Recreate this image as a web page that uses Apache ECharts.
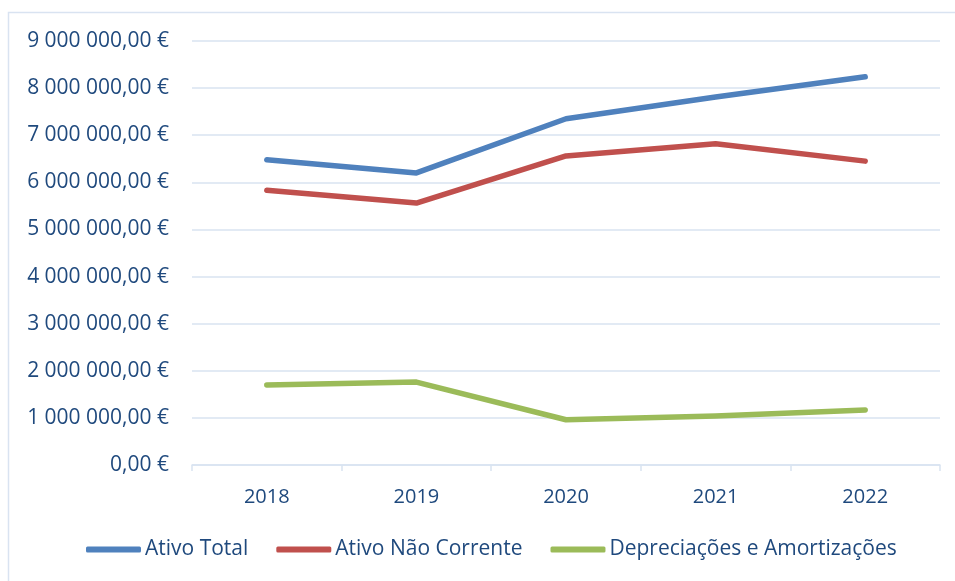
<!DOCTYPE html>
<html>
<head>
<meta charset="utf-8">
<script src="https://cdn.jsdelivr.net/npm/echarts@6/dist/echarts.min.js"></script>
<style>
  html, body { margin: 0; padding: 0; background: #fff; }
  #chart { width: 955px; height: 581px; }
</style>
</head>
<body>
<div id="chart"></div>
<script>
const years = ['2018', '2019', '2020', '2021', '2022']
const ativoTotal = [6480000, 6200000, 7350000, 7810000, 8240000]
const ativoNaoCorrente = [5830000, 5560000, 6560000, 6820000, 6450000]
const depreciacoes = [1700000, 1760000, 960000, 1040000, 1170000]

const textColor = '#1F497D'
const gridColor = '#D9E3F1'
const font = 'Open Sans'

const fmtEuro = (v) => {
  const s = Math.round(v).toString().replace(/\B(?=(\d{3})+(?!\d))/g, ' ')
  return s + ',00 €'
}

const lineSeries = (name, data, color) => ({
  name,
  type: 'line',
  data,
  symbol: 'none',
  lineStyle: { color, width: 5.5, cap: 'round', join: 'round' },
  itemStyle: { color },
})

const chart = echarts.init(document.getElementById('chart'), null, { renderer: 'canvas' })
chart.setOption({
  animation: false,
  backgroundColor: '#ffffff',
  graphic: [{
    type: 'rect',
    shape: { x: 8.5, y: 12.5, width: 1000, height: 1000 },
    style: { fill: 'none', stroke: '#D9E3F1', lineWidth: 1.5 },
    silent: true,
  }],
  grid: { left: 192, right: 15, top: 41, bottom: 116 },
  xAxis: {
    type: 'category',
    data: years,
    boundaryGap: true,
    axisLine: { lineStyle: { color: gridColor, width: 1.5 } },
    axisTick: { show: true, length: 6, lineStyle: { color: gridColor, width: 1.5 } },
    axisLabel: { color: textColor, fontFamily: font, fontSize: 20, margin: 22 },
  },
  yAxis: {
    type: 'value',
    min: 0,
    max: 9000000,
    interval: 1000000,
    axisLine: { show: false },
    axisTick: { show: false },
    splitLine: { lineStyle: { color: gridColor, width: 1.5 } },
    axisLabel: { color: textColor, fontFamily: font, fontSize: 21, margin: 23, formatter: fmtEuro },
  },
  legend: {
    bottom: 16,
    left: 81,
    icon: 'roundRect',
    itemWidth: 55,
    itemHeight: 6,
    itemGap: 28,
    textStyle: { color: textColor, fontFamily: font, fontSize: 21, padding: [0, 0, 0, -1] },
    data: ['Ativo Total', 'Ativo Não Corrente', 'Depreciações e Amortizações'],
  },
  series: [
    lineSeries('Ativo Total', ativoTotal, '#4F81BD'),
    lineSeries('Ativo Não Corrente', ativoNaoCorrente, '#C0504D'),
    lineSeries('Depreciações e Amortizações', depreciacoes, '#9BBB59'),
  ],
})
</script>
</body>
</html>
